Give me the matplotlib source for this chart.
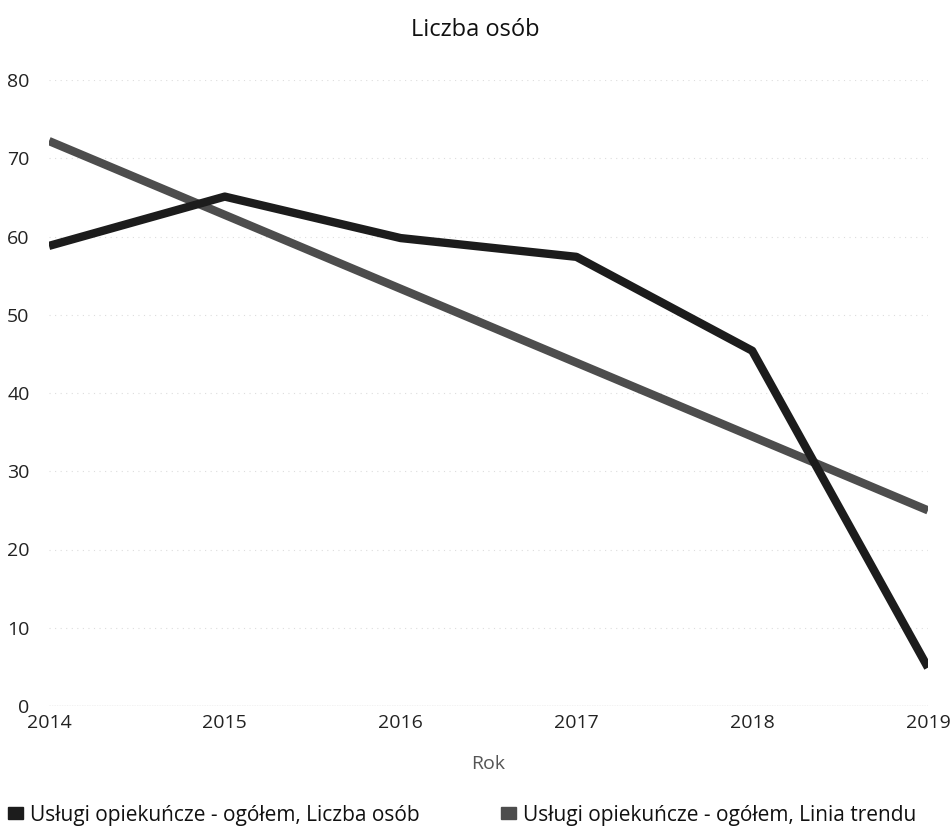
import matplotlib
matplotlib.use("Agg")
import matplotlib.pyplot as plt
from matplotlib.patches import Patch

plt.rcParams['font.family'] = ['Open Sans', 'DejaVu Sans']

years = [2014, 2015, 2016, 2017, 2018, 2019]
liczba_osob = [58.8, 65.1, 59.8, 57.4, 45.4, 4.9]
trend_years = [2014, 2019]
trend_values = [72.2, 25.0]
yticks = [0, 10, 20, 30, 40, 50, 60, 70, 80]
title = "Liczba osób"
xlabel = "Rok"
label_data = "Usługi opiekuńcze - ogółem, Liczba osób"
label_trend = "Usługi opiekuńcze - ogółem, Linia trendu"

dark = "#1c1c1c"
grey = "#4d4d4d"

fig = plt.figure(figsize=(9.51, 8.33), dpi=100)
ax = fig.add_axes([49/951, 1 - 706/833, (928 - 49)/951, (706 - 80)/833])

ax.plot(trend_years, trend_values, color=grey, lw=6, solid_capstyle='butt', zorder=3)
ax.plot(years, liczba_osob, color=dark, lw=6, solid_capstyle='butt',
        solid_joinstyle='round', zorder=4)

ax.set_xlim(2014, 2019)
ax.set_ylim(0, 80)
ax.set_yticks(yticks)
ax.set_xticks(years)
ax.set_xticklabels([str(y) for y in years])
for s in ax.spines.values():
    s.set_visible(False)
ax.grid(axis='y', color='#dddddd', lw=0.8, ls=(0, (1, 4)))
ax.axhline(0, color='#9a9a9a', lw=0.9, ls=(0, (1, 1)), zorder=1)
ax.tick_params(axis='both', length=0, labelsize=14, colors='#222222')
ax.tick_params(axis='y', pad=14)
ax.tick_params(axis='x', pad=6)

ax.set_xlabel(xlabel, fontsize=14, color='#555555', labelpad=16)
fig.text(0.5, 1 - 30/833, title, ha='center', va='center', fontsize=17,
         color='#111111')

handles = [Patch(facecolor=dark, edgecolor=dark),
           Patch(facecolor=grey, edgecolor=grey)]
fig.legend(handles, [label_data, label_trend], loc='center left',
           bbox_to_anchor=(0.0, 1 - 815/833), ncol=2, frameon=False,
           fontsize=15, handlelength=0.7, handleheight=0.55,
           handletextpad=0.35, columnspacing=3.9, borderaxespad=0,
           labelcolor='#111111')

fig.savefig("out.png", dpi=100)
